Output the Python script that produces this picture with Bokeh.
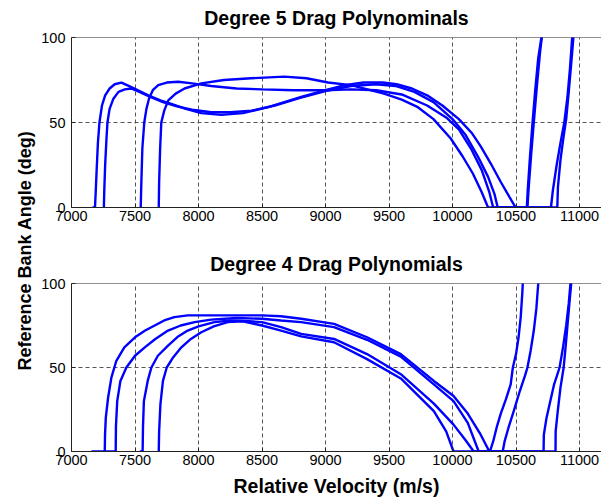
from math import pi

from bokeh.embed import file_html
from bokeh.layouts import column, row
from bokeh.models import FixedTicker, Label, Range1d, Span
from bokeh.plotting import figure
from bokeh.resources import INLINE

# ---- Degree 5 drag polynomial trajectories (velocity m/s, bank angle deg) ----
d5_a_vel = [7165, 7185, 7190, 7198, 7208, 7220, 7240, 7265, 7300, 7340, 7393, 7450,
            7520, 7605, 7700, 7786, 7900, 8022, 8180, 8350, 8550, 8808, 9000, 9150,
            9300, 9450, 9560, 9680, 9800, 9920, 10050, 10150, 10222, 10300, 10380,
            10450, 10497, 10650, 10825, 10830, 10850, 10875, 10895, 10915, 10935, 10955]
d5_a_bank = [0, 0, 8, 22, 38, 50, 60, 66, 70, 72.5, 73.5, 71.5,
             69, 66, 63, 61, 58, 55.5, 54.5, 55.5, 59, 65, 69, 72,
             73.5, 73.5, 72.5, 70, 66, 60, 52, 44, 36, 26, 15,
             6, 0, 0, 0, 12, 28, 42, 52, 68, 85, 103]

d5_b_vel = [7255, 7258, 7265, 7275, 7283, 7300, 7330, 7370, 7420, 7470, 7534, 7620,
            7720, 7830, 7950, 8100, 8250, 8420, 8600, 8800, 9000, 9200, 9400, 9550,
            9700, 9850, 10000, 10100, 10200, 10280, 10330, 10356, 10600, 10775, 10790,
            10820, 10850, 10880, 10905, 10925, 10945]
d5_b_bank = [0, 10, 25, 40, 50, 58, 64, 68, 69.5, 70, 68, 65,
             62, 59.5, 57.5, 56, 56, 57, 60, 64.5, 68.5, 71.5, 72.5, 71.5,
             68, 62, 52, 43, 30, 18, 8, 0, 0, 0, 10,
             25, 38, 50, 65, 82, 103]

d5_c_vel = [7545, 7550, 7558, 7573, 7590, 7610, 7640, 7683, 7750, 7840, 7950, 8100,
            8300, 8500, 8750, 9000, 9200, 9400, 9600, 9800, 9950, 10050, 10150, 10230,
            10290, 10320, 10590, 10600, 10620, 10640, 10665, 10690, 10708]
d5_c_bank = [0, 15, 35, 50, 58, 64, 69, 72, 73.5, 74, 73, 71.5,
             70, 69.5, 69, 69, 69.5, 69, 66.5, 60, 53, 46, 34, 22,
             9, 0, 0, 12, 32, 50, 72, 92, 103]

d5_d_vel = [7687, 7690, 7698, 7707, 7730, 7762, 7820, 7890, 8022, 8200, 8414, 8674,
            8850, 9020, 9200, 9460, 9600, 9727, 9850, 9986, 10080, 10160, 10230, 10280,
            10585, 10592, 10610, 10630, 10650, 10675, 10700, 10715]
d5_d_bank = [0, 15, 35, 50, 57, 63, 67, 70, 73, 75, 76, 77,
             76, 73.5, 72, 67, 63.5, 59, 52, 40.6, 30, 20, 9, 0,
             0, 10, 30, 50, 68, 88, 100, 105]

# ---- Degree 4 drag polynomial trajectories ----
d4_a_vel = [7157, 7262, 7264, 7270, 7288, 7314, 7353, 7416, 7500, 7580, 7655, 7730,
            7810, 7915, 8100, 8300, 8500, 8650, 8808, 9067, 9327, 9593, 9853, 10008,
            10120, 10222, 10290, 10295, 10320, 10350, 10380, 10420, 10458, 10475, 10500,
            10520, 10537, 10550, 10555]
d4_a_bank = [0, 0, 10, 20, 32, 44, 54, 62, 68, 72, 75, 78,
             80, 81, 81, 81, 81, 80.5, 79, 76, 68, 58, 42, 33,
             22.6, 10, 0, 0, 6, 15, 22.6, 31, 40, 50, 58,
             68, 80, 95, 103]

d4_b_vel = [7262, 7348, 7350, 7360, 7385, 7432, 7500, 7577, 7660, 7760, 7860, 7970,
            8100, 8300, 8500, 8650, 8808, 9067, 9327, 9593, 9853, 10008, 10120, 10206,
            10395, 10410, 10440, 10482, 10530, 10570, 10590, 10615, 10640, 10660, 10675,
            10680]
d4_b_bank = [0, 0, 15, 30, 42, 50, 57, 62, 67, 72, 75, 77,
             78.5, 79.5, 79, 78, 77, 74, 66.5, 56.5, 40, 30, 17, 0,
             0, 6, 14, 24, 36, 45, 50, 60, 72, 85, 100,
             104]

d4_c_vel = [7538, 7560, 7563, 7570, 7600, 7629, 7680, 7760, 7840, 7915, 8000, 8125,
            8250, 8400, 8500, 8650, 8808, 9067, 9327, 9593, 9853, 10008, 10100, 10167,
            10717, 10719, 10740, 10770, 10800, 10843, 10870, 10895, 10915, 10932]
d4_c_bank = [0, 0, 15, 30, 42, 50, 57, 63, 68.5, 72, 74.5, 77,
             78, 77.5, 77, 74, 70, 67, 58, 46, 28.5, 16, 7, 0,
             0, 10, 20, 30, 40, 50, 62, 75, 88, 103]

d4_d_vel = [7687, 7690, 7700, 7720, 7750, 7800, 7865, 7940, 8022, 8120, 8230, 8350,
            8500, 8650, 8808, 9067, 9327, 9593, 9853, 9950, 10008, 10811, 10812, 10830,
            10850, 10875, 10890, 10905, 10920, 10938]
d4_d_bank = [0, 12, 28, 42, 50, 56, 62, 67, 71, 74.5, 77, 77.5,
             75, 72, 68.5, 65, 55, 43.5, 24, 12, 0, 0, 12, 25,
             38, 50, 62, 75, 88, 103]

velocity_ticks = [7000, 7500, 8000, 8500, 9000, 9500, 10000, 10500, 11000]
bank_ticks = [0, 50, 100]

titles = ["Degree 5 Drag Polynominals", "Degree 4 Drag Polynomials"]
x_title = "Relative Velocity (m/s)"
y_title = "Reference Bank Angle (deg)"

FONT = "Liberation Sans"
BLUE = "#0000ff"
GRID = "#555555"
V_MIN, V_MAX = 7000, 11173
PANEL_W = 563
LEFT_PAD = 32


def text_strip(text, width, height, x, y, size, angle=0.0, left=0):
    """A blank canvas carrying a single caption, laid out in pixel units."""
    s = figure(width=width, height=height,
               x_range=Range1d(0, width - left), y_range=Range1d(0, height),
               output_backend="svg", toolbar_location=None, title=None,
               min_border=0, min_border_left=left, min_border_right=0,
               min_border_top=0, min_border_bottom=0,
               background_fill_color="white", border_fill_color="white")
    s.axis.visible = False
    s.grid.visible = False
    s.outline_line_color = None
    s.add_layout(Label(x=x, y=y, text=text, angle=angle,
                       text_align="center", text_baseline="middle",
                       text_font=FONT, text_font_size=size,
                       text_font_style="bold", text_color="black"))
    return s


def make_panel(series, height, border_top, border_bottom, xlabel=None):
    p = figure(width=PANEL_W, height=height,
               x_range=Range1d(V_MIN, V_MAX), y_range=Range1d(0, 100),
               output_backend="svg", toolbar_location=None, title=None,
               min_border_left=LEFT_PAD, min_border_right=0,
               min_border_top=border_top, min_border_bottom=border_bottom,
               background_fill_color="white", border_fill_color="white")
    p.outline_line_color = None

    for ax in (p.xaxis, p.yaxis):
        ax.major_label_text_font = FONT
        ax.major_label_text_font_size = "14.5px"
        ax.major_label_text_color = "black"
        ax.axis_line_color = "#222222"
        ax.major_tick_in = 4
        ax.major_tick_out = 0
        ax.major_tick_line_color = "#222222"
        ax.minor_tick_line_color = None
    p.xaxis.ticker = FixedTicker(ticks=velocity_ticks)
    p.yaxis.ticker = FixedTicker(ticks=bank_ticks)
    p.xaxis.major_label_standoff = 3
    p.yaxis.major_label_standoff = 6

    if xlabel:
        p.xaxis.axis_label = xlabel
        p.xaxis.axis_label_text_font = FONT
        p.xaxis.axis_label_text_font_size = "19.5px"
        p.xaxis.axis_label_text_font_style = "bold"
        p.xaxis.axis_label_text_color = "black"
        p.xaxis.axis_label_standoff = 7

    for g in (p.xgrid, p.ygrid):
        g.grid_line_color = GRID
        g.grid_line_dash = "4 3"
        g.grid_line_width = 1
    p.xgrid.ticker = FixedTicker(ticks=velocity_ticks)
    p.ygrid.ticker = FixedTicker(ticks=bank_ticks)

    # top edge of the axes box
    p.add_layout(Span(location=100, dimension="width",
                      line_color="#222222", line_width=1))

    for vel, bank in series:
        p.line(vel, bank, line_color=BLUE, line_width=2.4)
    return p


frame_mid = (PANEL_W - LEFT_PAD) / 2
head5 = text_strip(titles[0], PANEL_W, 30, frame_mid, 13, "19.5px", left=LEFT_PAD)
top = make_panel([(d5_a_vel, d5_a_bank), (d5_b_vel, d5_b_bank),
                  (d5_c_vel, d5_c_bank), (d5_d_vel, d5_d_bank)],
                 height=215, border_top=7, border_bottom=38)
head4 = text_strip(titles[1], PANEL_W, 30, frame_mid, 12, "19.5px", left=LEFT_PAD)
bottom = make_panel([(d4_a_vel, d4_a_bank), (d4_b_vel, d4_b_bank),
                     (d4_c_vel, d4_c_bank), (d4_d_vel, d4_d_bank)],
                    height=227, border_top=8, border_bottom=51, xlabel=x_title)

# shared y-axis caption spanning both panels
side = text_strip(y_title, 38, 502, 24, 252, "18px", angle=pi / 2)

layout = row(side, column(head5, top, head4, bottom))

with open("out.html", "w") as f:
    f.write(file_html(layout, INLINE))
